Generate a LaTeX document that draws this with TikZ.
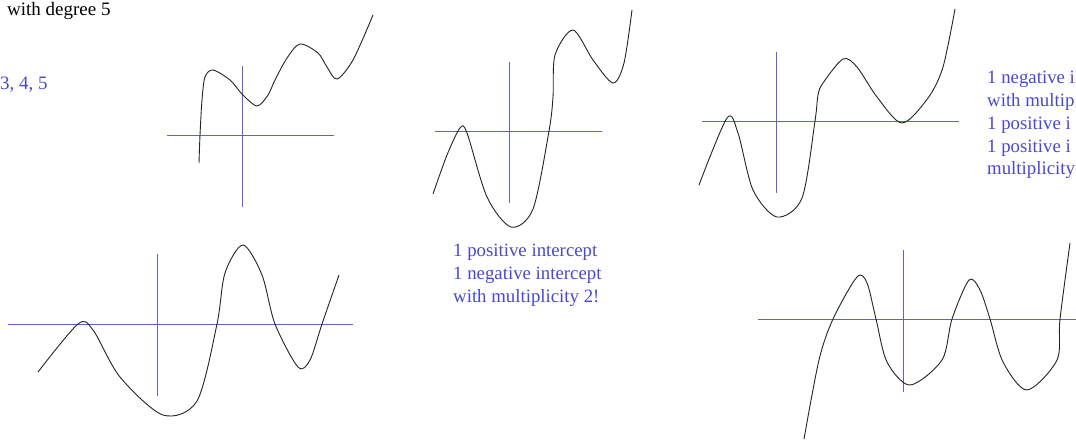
\documentclass[tikz,border=0pt]{standalone}
\usepackage{fontspec}
\setmainfont{Liberation Serif}
\definecolor{axisblue}{RGB}{95,95,225}
\definecolor{noteblue}{RGB}{72,72,215}
\definecolor{curvegray}{RGB}{35,35,35}

\begin{document}
\begin{tikzpicture}[
    x=1pt, y=-1pt,
    % Styles
    axis/.style={draw=axisblue, line width=0.9pt},
    curve/.style={draw=curvegray, line width=0.9pt},
    note/.style={
        text=noteblue, font=\fontsize{18.8}{22.8}\selectfont,
        align=left, anchor=north west, inner sep=0pt
    },
    heading/.style={
        font=\fontsize{19}{22.8}\selectfont, anchor=base west, inner sep=0pt
    },
]

\useasboundingbox (0,0) rectangle (1076,440);
\clip (0,0) rectangle (1076,440);

% ═══════════════════════════════════════════════════════════════
% Heading text (top left)
% ═══════════════════════════════════════════════════════════════

\node[heading] (title) at (7,15) {with degree 5};
\node[heading, text=noteblue] (degrees) at (0,89) {3, 4, 5};

% ═══════════════════════════════════════════════════════════════
% Graph 1 (top left)
% ═══════════════════════════════════════════════════════════════

\draw[axis] (167,135) -- (334,135);
\draw[axis] (242,66) -- (242,207);
\draw[curve] plot[smooth, tension=0.5] coordinates {
    (199,163) (200,135) (202,100) (205,77) (213,70) (230,80) (242,94)
    (257,106) (268,95) (275,80) (287,58) (300,44) (318,53) (327,67)
    (337,79) (353,60) (373,15)};

% ═══════════════════════════════════════════════════════════════
% Graph 2 (top middle)
% ═══════════════════════════════════════════════════════════════

\draw[axis] (435,131) -- (602,131);
\draw[axis] (509,62) -- (509,203);
\draw[curve] plot[smooth, tension=0.5] coordinates {
    (433,194) (447,155) (460,128) (467,133) (487,197) (511,227)
    (533,209) (549,131) (553,97) (555,55) (573,30) (593,60) (613,83)
    (624,63) (632,10)};

\node[note] (note2) at (453,244) {
    1 positive intercept\\
    1 negative intercept\\
    with multiplicity 2!
};

% ═══════════════════════════════════════════════════════════════
% Graph 3 (top right)
% ═══════════════════════════════════════════════════════════════

\draw[axis] (702,121) -- (959,121);
\draw[axis] (776,52) -- (776,193);
\draw[curve] plot[smooth, tension=0.5] coordinates {
    (699,185) (727,118) (738,133) (753,190) (777,217) (802,198)
    (815,121) (818,95) (823,83) (843,59) (857,67) (877,97) (902,123)
    (928,98) (943,67) (955,9)};

\node[note] (note3) at (987,71) {
    1 negative i\\
    with multip\\
    1 positive i\\
    1 positive i\\
    multiplicity
};

% ═══════════════════════════════════════════════════════════════
% Graph 4 (bottom left)
% ═══════════════════════════════════════════════════════════════

\draw[axis] (8,324) -- (353,324);
\draw[axis] (157,254) -- (157,396);
\draw[curve] plot[smooth, tension=0.5] coordinates {
    (38,372) (78,324) (93,330) (120,377) (163,415) (197,401) (217,324)
    (225,273) (243,245) (262,275) (275,324) (298,367) (310,360)
    (322,324) (339,275)};

% ═══════════════════════════════════════════════════════════════
% Graph 5 (bottom right)
% ═══════════════════════════════════════════════════════════════

\draw[axis] (758,319) -- (1076,319);
\draw[axis] (903,250) -- (903,392);
\draw[curve] plot[smooth, tension=0.5] coordinates {
    (804,439) (819,360) (833,319) (857,277) (867,283) (876,319)
    (887,362) (910,385) (942,360) (952,319) (969,280) (980,290)
    (990,319) (1003,362) (1027,390) (1057,360) (1060,319) (1070,243)};

\end{tikzpicture}
\end{document}
